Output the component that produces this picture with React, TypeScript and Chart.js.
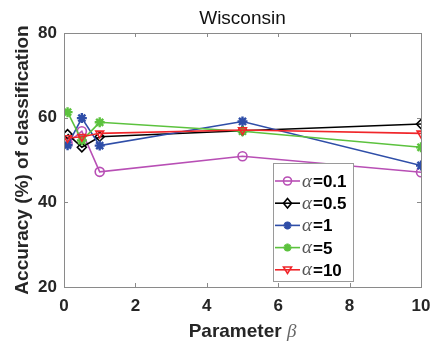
import React, { useEffect, useRef } from "react";
import { Chart, registerables } from "chart.js";

Chart.register(...registerables);

const betaValues = [0.1, 0.5, 1, 5, 10];
const alphaLabels = ["0.1", "0.5", "1", "5", "10"];
const seriesA01 = [54.0, 56.8, 47.2, 50.9, 47.1];
const seriesA05 = [56.1, 53.0, 55.5, 56.9, 58.5];
const seriesA1 = [53.5, 59.9, 53.4, 59.1, 48.7];
const seriesA5 = [61.3, 54.6, 58.9, 56.8, 53.0];
const seriesA10 = [55.2, 55.5, 56.3, 57.1, 56.3];
const seriesColors = ["#b84fb5", "#000000", "#2f4ea8", "#5cc23e", "#f0262a"];
const seriesMarkers = ["circle", "rectRot", "star", "star", "triangle"];
const xTicks = [0, 2, 4, 6, 8, 10];
const yTicks = [20, 40, 60, 80];

const AXIS_COLOR = "#8a8a8a";
const TEXT_COLOR = "#262626";

function drawMarker(ctx: CanvasRenderingContext2D, style: string, x: number, y: number, r: number, color: string) {
  ctx.save();
  ctx.strokeStyle = color;
  ctx.fillStyle = color;
  ctx.lineWidth = 1.6;
  ctx.beginPath();
  if (style === "circle") {
    ctx.arc(x, y, r, 0, Math.PI * 2);
    ctx.stroke();
  } else if (style === "rectRot") {
    ctx.moveTo(x, y - r * 1.2);
    ctx.lineTo(x + r, y);
    ctx.lineTo(x, y + r * 1.2);
    ctx.lineTo(x - r, y);
    ctx.closePath();
    ctx.stroke();
  } else if (style === "star") {
    for (let k = 0; k < 4; k++) {
      const a = (k * Math.PI) / 4;
      ctx.moveTo(x - Math.cos(a) * r, y - Math.sin(a) * r);
      ctx.lineTo(x + Math.cos(a) * r, y + Math.sin(a) * r);
    }
    ctx.lineWidth = 2.4;
    ctx.stroke();
  } else if (style === "triangle") {
    ctx.moveTo(x - r, y - r * 0.7);
    ctx.lineTo(x + r, y - r * 0.7);
    ctx.lineTo(x, y + r * 0.9);
    ctx.closePath();
    ctx.stroke();
  }
  ctx.restore();
}

const framePlugin = {
  id: "matlabFrame",
  afterDraw(chart: any) {
    const ctx: CanvasRenderingContext2D = chart.ctx;
    const area = chart.chartArea;
    const xs = chart.scales.x;
    const ys = chart.scales.y;
    ctx.save();
    // box
    ctx.strokeStyle = AXIS_COLOR;
    ctx.lineWidth = 1;
    ctx.strokeRect(Math.round(area.left) + 0.5, Math.round(area.top) + 0.5, Math.round(area.right - area.left), Math.round(area.bottom - area.top));
    // inward ticks
    ctx.beginPath();
    for (const t of xTicks) {
      const px = Math.round(xs.getPixelForValue(t)) + 0.5;
      ctx.moveTo(px, area.bottom);
      ctx.lineTo(px, area.bottom - 4);
      ctx.moveTo(px, area.top);
      ctx.lineTo(px, area.top + 4);
    }
    for (const t of yTicks) {
      const py = Math.round(ys.getPixelForValue(t)) + 0.5;
      ctx.moveTo(area.left, py);
      ctx.lineTo(area.left + 4, py);
      ctx.moveTo(area.right, py);
      ctx.lineTo(area.right - 4, py);
    }
    ctx.stroke();

    // title
    const cx = (area.left + area.right) / 2;
    ctx.fillStyle = "#111";
    ctx.font = "19px 'Liberation Sans', Arial, sans-serif";
    ctx.textAlign = "center";
    ctx.textBaseline = "alphabetic";
    ctx.fillText("Wisconsin", cx, 24);

    // y title
    ctx.save();
    ctx.translate(28, (area.top + area.bottom) / 2);
    ctx.rotate(-Math.PI / 2);
    ctx.fillStyle = TEXT_COLOR;
    ctx.font = "bold 19px 'Liberation Sans', Arial, sans-serif";
    ctx.textAlign = "center";
    ctx.fillText("Accuracy (%) of classification", 0, 0);
    ctx.restore();

    // x title
    const mainFont = "bold 19px 'Liberation Sans', Arial, sans-serif";
    const betaFont = "italic 19px 'Liberation Serif', 'DejaVu Serif', serif";
    ctx.font = mainFont;
    const w1 = ctx.measureText("Parameter ").width;
    ctx.font = betaFont;
    const w2 = ctx.measureText("\u03b2").width;
    const startX = cx - (w1 + w2) / 2;
    ctx.textAlign = "left";
    ctx.font = mainFont;
    ctx.fillStyle = TEXT_COLOR;
    ctx.fillText("Parameter ", startX, 337);
    ctx.font = betaFont;
    ctx.fillStyle = "#666";
    ctx.fillText("\u03b2", startX + w1, 337);

    // legend
    const lx = 273, ly = 163, lw = 80, lh = 118;
    ctx.fillStyle = "#ffffff";
    ctx.fillRect(lx, ly, lw, lh);
    ctx.strokeStyle = "#9a9a9a";
    ctx.lineWidth = 1;
    ctx.strokeRect(lx + 0.5, ly + 0.5, lw, lh);
    chart.data.datasets.forEach((ds: any, i: number) => {
      const rowY = 181 + i * 22.2;
      ctx.strokeStyle = ds.borderColor;
      ctx.lineWidth = 1.6;
      ctx.beginPath();
      ctx.moveTo(lx + 2, rowY);
      ctx.lineTo(lx + 27, rowY);
      ctx.stroke();
      drawMarker(ctx, seriesMarkers[i], lx + 14.5, rowY, 4, ds.borderColor);
      ctx.textBaseline = "alphabetic";
      ctx.font = "italic 19px 'Liberation Serif', 'DejaVu Serif', serif";
      ctx.fillStyle = "#555";
      const ax = lx + 29;
      ctx.fillText("\u03b1", ax, rowY + 5.5);
      const aw = ctx.measureText("\u03b1").width;
      ctx.font = "bold 17px 'Liberation Sans', Arial, sans-serif";
      ctx.fillStyle = "#000";
      ctx.fillText("=" + alphaLabels[i], ax + aw + 1, rowY + 6);
    });
    ctx.restore();
  },
};

export default function App() {
  const canvasRef = useRef<HTMLCanvasElement | null>(null);
  useEffect(() => {
    document.body.style.margin = "0";
    const canvas = canvasRef.current;
    if (!canvas) return;
    const all = [seriesA01, seriesA05, seriesA1, seriesA5, seriesA10];
    const datasets = all.map((vals, i) => ({
      label: "\u03b1=" + alphaLabels[i],
      data: vals.map((v, j) => ({ x: betaValues[j], y: v })),
      borderColor: seriesColors[i],
      backgroundColor: seriesMarkers[i] === "star" ? seriesColors[i] : "rgba(0,0,0,0)",
      pointBorderColor: seriesColors[i],
      pointBackgroundColor: seriesMarkers[i] === "star" ? seriesColors[i] : "rgba(0,0,0,0)",
      pointStyle: seriesMarkers[i],
      pointRotation: seriesMarkers[i] === "triangle" ? 180 : 0,
      pointRadius: seriesMarkers[i] === "star" ? 5 : 4.5,
      pointBorderWidth: seriesMarkers[i] === "star" ? 2.4 : 1.6,
      borderWidth: 1.6,
      fill: false,
      tension: 0,
      order: 4 - i,
    }));
    const chart = new Chart(canvas, {
      type: "line",
      data: { datasets },
      options: {
        animation: false,
        responsive: false,
        devicePixelRatio: 1,
        layout: { padding: { left: 0, right: 12, top: 33, bottom: 0 } },
        plugins: { legend: { display: false }, title: { display: false }, tooltip: { enabled: false } },
        scales: {
          x: {
            type: "linear",
            min: 0,
            max: 10,
            afterFit: (s: any) => { s.height = 58; s.paddingLeft = 0; s.paddingRight = 0; },
            afterBuildTicks: (s: any) => { s.ticks = xTicks.map((v) => ({ value: v })); },
            grid: { display: false, drawTicks: false },
            border: { display: false },
            ticks: {
              padding: 9,
              color: TEXT_COLOR,
              font: { family: "'Liberation Sans', Arial, sans-serif", size: 17, weight: "bold" },
              maxRotation: 0,
            },
          },
          y: {
            type: "linear",
            min: 20,
            max: 80,
            afterFit: (s: any) => { s.width = 64; s.paddingTop = 0; s.paddingBottom = 0; },
            afterBuildTicks: (s: any) => { s.ticks = yTicks.map((v) => ({ value: v })); },
            grid: { display: false, drawTicks: false },
            border: { display: false },
            ticks: {
              padding: 7,
              color: TEXT_COLOR,
              font: { family: "'Liberation Sans', Arial, sans-serif", size: 17, weight: "bold" },
            },
          },
        },
      },
      plugins: [framePlugin],
    } as any);
    return () => chart.destroy();
  }, []);
  return (
    <div style={{ position: "absolute", left: 0, top: 0, width: 433, height: 345, background: "#fff" }}>
      <canvas ref={canvasRef} width={433} height={345} />
    </div>
  );
}
